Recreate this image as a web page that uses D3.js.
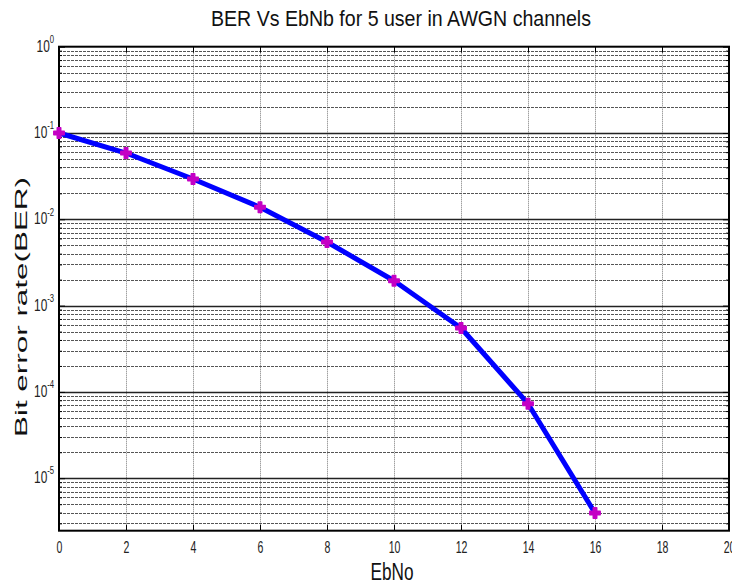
<!DOCTYPE html>
<html>
<head>
<meta charset="utf-8">
<script src="https://cdn.jsdelivr.net/npm/d3@7"></script>
<style>
  body { margin: 0; background: #fff; }
  svg { display: block; font-family: "Liberation Sans", Arial, sans-serif; }
</style>
</head>
<body>
<svg id="chart"></svg>
<script>
var W = 732;
var H = 587;

// data
var ebno = [0, 2, 4, 6, 8, 10, 12, 14, 16];
var ber = [0.1, 0.0586, 0.0293, 0.0138, 0.00546, 0.00194, 0.00055, 0.000073, 0.00000395];
var xTicks = [0, 2, 4, 6, 8, 10, 12, 14, 16, 18, 20];
var yExps = [0, -1, -2, -3, -4, -5];

var pL = 59, pR = 729, pT = 46.7, pB = 530.7;

var svg = d3.select('#chart').attr('width', W).attr('height', H);

var x = d3.scaleLinear().domain([0, 20]).range([pL, pR]);
var y = d3.scaleLog().domain([Math.pow(10, -5.608), 1]).range([pB, pT]);

// minor + major y values for grid
var yMinor = [];
for (var e = -6; e < 0; e++) {
  for (var m = 2; m <= 9; m++) {
    var v = m * Math.pow(10, e);
    if (v >= y.domain()[0] && v <= 1) yMinor.push(v);
  }
}
var yMajor = yExps.map(function (p) { return Math.pow(10, p); });

var grid = svg.append('g');

grid.selectAll('line.vg')
  .data(xTicks.slice(1, -1))
  .enter()
  .append('line')
  .attr('class', 'vg')
  .attr('x1', function (d) { return Math.round(x(d)) + 0.5; })
  .attr('x2', function (d) { return Math.round(x(d)) + 0.5; })
  .attr('y1', pT)
  .attr('y2', pB)
  .style('stroke', '#777')
  .style('stroke-width', 1)
  .style('stroke-dasharray', '1,1');

grid.selectAll('line.hg')
  .data(yMinor)
  .enter()
  .append('line')
  .attr('class', 'hg')
  .attr('x1', pL)
  .attr('x2', pR)
  .attr('y1', function (d) { return Math.round(y(d)) + 0.5; })
  .attr('y2', function (d) { return Math.round(y(d)) + 0.5; })
  .style('stroke', '#555')
  .style('stroke-width', 1)
  .style('stroke-dasharray', '3,1');

grid.selectAll('line.hm')
  .data(yMajor.slice(1))
  .enter()
  .append('line')
  .attr('class', 'hm')
  .attr('x1', pL)
  .attr('x2', pR)
  .attr('y1', function (d) { return Math.round(y(d)) + 0.5; })
  .attr('y2', function (d) { return Math.round(y(d)) + 0.5; })
  .style('stroke', '#222')
  .style('stroke-width', 1.3);

// axes
var xAxis = svg.append('g')
  .attr('transform', 'translate(0,' + pB + ')')
  .call(d3.axisBottom(x).tickValues(xTicks).tickSize(-6).tickPadding(10).tickFormat(d3.format('d')));
xAxis.select('.domain').remove();
xAxis.selectAll('line').style('stroke', '#000');
xAxis.selectAll('text')
  .style('font-size', '17px')
  .style('fill', '#222')
  .attr('transform', 'scale(0.62,1)');

var xTop = svg.append('g')
  .attr('transform', 'translate(0,' + pT + ')')
  .call(d3.axisTop(x).tickValues(xTicks).tickSize(-6).tickFormat(''));
xTop.select('.domain').remove();
xTop.selectAll('line').style('stroke', '#000');

var yAxis = svg.append('g')
  .attr('transform', 'translate(' + pL + ',0)')
  .call(d3.axisLeft(y).tickValues(yMajor).tickSize(-6).tickFormat(''));
yAxis.select('.domain').remove();
yAxis.selectAll('line').style('stroke', '#000');

var labels = yAxis.selectAll('.tick text')
  .attr('x', -7)
  .attr('dy', '0.45em')
  .style('fill', '#222')
  .attr('text-anchor', 'end')
  .attr('transform', 'scale(0.7,1)');
labels.each(function (d) {
  var t = d3.select(this);
  var p = Math.round(Math.log10(d));
  t.append('tspan').text('10').style('font-size', '17px');
  t.append('tspan').text(p).attr('dy', '-0.8em').style('font-size', '11px');
});

var yMinorAxis = svg.append('g')
  .attr('transform', 'translate(' + pL + ',0)')
  .call(d3.axisLeft(y).tickValues(yMinor).tickSize(-3).tickFormat(''));
yMinorAxis.select('.domain').remove();
yMinorAxis.selectAll('line').style('stroke', '#000');

var yRight = svg.append('g')
  .attr('transform', 'translate(' + pR + ',0)')
  .call(d3.axisRight(y).tickValues(yMajor).tickSize(-6).tickFormat(''));
yRight.select('.domain').remove();
yRight.selectAll('line').style('stroke', '#000');
var yRightMinor = svg.append('g')
  .attr('transform', 'translate(' + pR + ',0)')
  .call(d3.axisRight(y).tickValues(yMinor).tickSize(-3).tickFormat(''));
yRightMinor.select('.domain').remove();
yRightMinor.selectAll('line').style('stroke', '#000');

// frame
svg.append('rect')
  .attr('x', pL)
  .attr('y', pT)
  .attr('width', pR - pL)
  .attr('height', pB - pT)
  .style('fill', 'none')
  .style('stroke', '#000')
  .style('stroke-width', 2);

// series
var line = d3.line()
  .x(function (d, i) { return x(ebno[i]); })
  .y(function (d) { return y(d); });

svg.append('path')
  .datum(ber)
  .attr('d', line)
  .style('fill', 'none')
  .style('stroke', '#0000ff')
  .style('stroke-width', 5)
  .style('stroke-linejoin', 'round');

svg.selectAll('path.mk')
  .data(ber)
  .enter()
  .append('path')
  .attr('class', 'mk')
  .attr('d', d3.symbol().type(d3.symbolCross).size(60))
  .attr('transform', function (d, i) { return 'translate(' + x(ebno[i]) + ',' + y(d) + ')'; })
  .style('fill', '#c400c4')
  .style('stroke', '#c400c4')
  .style('stroke-width', 1.5)
  .style('stroke-linejoin', 'round');

// titles
svg.append('text')
  .attr('x', 401)
  .attr('y', 26)
  .attr('text-anchor', 'middle')
  .attr('textLength', 380)
  .attr('lengthAdjust', 'spacingAndGlyphs')
  .style('font-size', '22px')
  .style('fill', '#111')
  .text('BER Vs EbNb for 5 user in AWGN channels');

svg.append('text')
  .attr('x', 392)
  .attr('y', 580)
  .attr('text-anchor', 'middle')
  .attr('textLength', 43)
  .attr('lengthAdjust', 'spacingAndGlyphs')
  .style('font-size', '23px')
  .style('fill', '#111')
  .text('EbNo');

svg.append('text')
  .attr('transform', 'translate(27,307) rotate(-90)')
  .attr('text-anchor', 'middle')
  .attr('textLength', 260)
  .attr('lengthAdjust', 'spacingAndGlyphs')
  .style('font-size', '17px')
  .style('fill', '#111')
  .text('Bit error rate(BER)');
</script>
</body>
</html>
